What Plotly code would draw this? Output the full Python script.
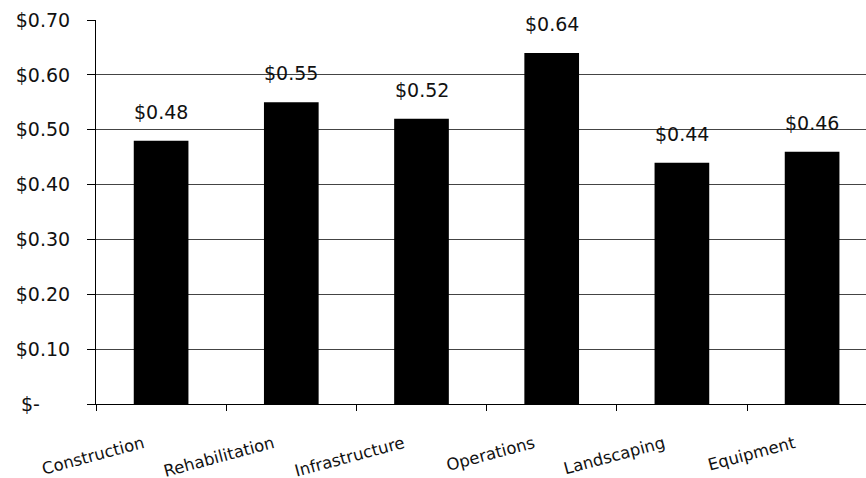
import plotly.graph_objects as go

categories = ["Construction", "Rehabilitation", "Infrastructure", "Operations", "Landscaping", "Equipment"]
values = [0.48, 0.55, 0.52, 0.64, 0.44, 0.46]
y_tick_vals = [0.0, 0.1, 0.2, 0.3, 0.4, 0.5, 0.6, 0.7]
y_tick_text = ["$-\u00a0\u00a0\u00a0\u00a0\u00a0", "$0.10", "$0.20", "$0.30", "$0.40", "$0.50", "$0.60", "$0.70"]

FONT = "DejaVu Sans"

fig = go.Figure(
    go.Bar(
        x=categories,
        y=values,
        marker=dict(color="black", line=dict(width=0)),
        hoverinfo="skip",
    )
)

# value labels above each bar
for cat, val in zip(categories, values):
    fig.add_annotation(
        x=cat, y=val, text=f"${val:.2f}",
        showarrow=False, yanchor="bottom", yshift=16,
        font=dict(family=FONT, size=19, color="#111"),
    )

fig.update_layout(
    width=866, height=478,
    margin=dict(l=96, r=0, t=20, b=74),
    paper_bgcolor="white", plot_bgcolor="white",
    bargap=0.58, showlegend=False,
    font=dict(family=FONT, color="#111"),
)
fig.update_xaxes(
    range=[-0.5, 5.414], automargin=False,
    showline=True, linecolor="black", linewidth=1,
    ticks="outside", ticklen=6, tickcolor="black", tickson="boundaries",
    tickangle=-15, tickfont=dict(family=FONT, size=16.5, color="#111"),
    ticklabelshift=-18, ticklabelstandoff=23,
    showgrid=False,
)
fig.update_yaxes(
    range=[0, 0.70], automargin=False,
    tickvals=y_tick_vals, ticktext=y_tick_text,
    showline=True, linecolor="black", linewidth=1,
    ticks="outside", ticklen=8, tickcolor="black",
    showgrid=True, gridcolor="#444", gridwidth=1,
    zeroline=False,
    tickfont=dict(family=FONT, size=19, color="#111"),
    ticklabelstandoff=13,
)

fig.write_html("out.html")
